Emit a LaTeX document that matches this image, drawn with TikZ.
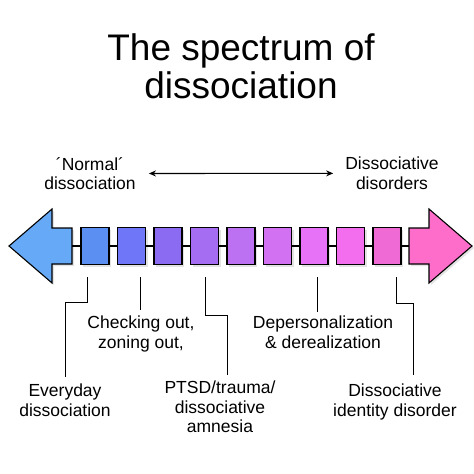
\documentclass[tikz,border=0pt]{standalone}
\usepackage{fontspec}
\setmainfont{Liberation Sans}
\usetikzlibrary{shadows,arrows.meta,positioning}

\definecolor{arrowblue}{HTML}{65A9F7}
\definecolor{arrowpink}{HTML}{FD6DC9}
\definecolor{boxa}{HTML}{5C8FF2}
\definecolor{boxb}{HTML}{7076F8}
\definecolor{boxc}{HTML}{8A6BF2}
\definecolor{boxd}{HTML}{A56EF2}
\definecolor{boxe}{HTML}{BC70F2}
\definecolor{boxf}{HTML}{D271F2}
\definecolor{boxg}{HTML}{E872F7}
\definecolor{boxh}{HTML}{F26EEE}
\definecolor{boxi}{HTML}{F06AD6}

\tikzset{
    softshadow/.style={drop shadow={opacity=.22, shadow xshift=2pt, shadow yshift=-2pt}},
    stepbox/.style={draw=black, line width=1.1pt, minimum width=28pt, minimum height=37pt, inner sep=0pt, softshadow},
    stepline/.style={draw=black, line width=1.1pt},
    notetext/.style={font=\fontsize{17.5}{19.5}\selectfont, align=center, inner sep=0pt},
    leader/.style={line width=1pt},
}

\begin{document}
\begin{tikzpicture}[x=1pt,y=-1pt]
    \useasboundingbox (0,0) rectangle (474,474);

    % Title
    \node[font=\fontsize{37}{38}\selectfont, anchor=base, inner sep=0pt] (title1) at (241,60) {The spectrum of};
    \node[font=\fontsize{37}{38}\selectfont, anchor=base, inner sep=0pt] (title2) at (241,98) {dissociation};

    % Ends of the spectrum
    \node[notetext, anchor=north] (normal) at (90,157) {´Normal´\\dissociation};
    \node[notetext, anchor=north] (disorders) at (392,157) {Dissociative\\disorders};
    \draw[line width=1.1pt, {Stealth[length=7pt,width=6pt]}-{Stealth[length=7pt,width=6pt]}]
        ([xshift=13pt]normal.east) -- ([xshift=-12pt]disorders.west);

    % Arrow heads
    \draw[stepline, fill=arrowblue, softshadow] (72,228) -- (52,228) -- (52,209) -- (9,246)
        -- (52,283) -- (52,264) -- (72,264) -- cycle;
    \draw[stepline, fill=arrowpink, softshadow] (409,228) -- (429,228) -- (429,209) -- (472,246)
        -- (429,283) -- (429,264) -- (409,264) -- cycle;
    \coordinate (lefttail) at (72,246);
    \coordinate (righttail) at (409,246);

    % Boxes
    \foreach \i/\c in {1/boxa,2/boxb,3/boxc,4/boxd,5/boxe,6/boxf,7/boxg,8/boxh,9/boxi}
        \node[stepbox, fill=\c] (b\i) at ({95+36.5*(\i-1)},246) {};
    \draw[stepline] (lefttail) -- (b1.west);
    \foreach \i [count=\j from 2] in {1,...,8}
        \draw[stepline] (b\i.east) -- (b\j.west);
    \draw[stepline] (b9.east) -- (righttail);

    % Labels
    \node[notetext, anchor=north] (everyday) at (65,384) {Everyday\\dissociation};
    \node[notetext, anchor=north] (checking) at (141,316) {Checking out,\\zoning out,};
    \node[notetext, anchor=north] (ptsd) at (220,381) {PTSD/trauma/\\dissociative\\amnesia};
    \node[notetext, anchor=north] (deperson) at (323,316) {Depersonalization\\\& derealization};
    \node[notetext, anchor=north] (did) at (395,384) {Dissociative\\identity disorder};

    % Leaders
    \coordinate (t1) at (87,277);
    \coordinate (t2) at (140,277);
    \coordinate (t3) at (205,277);
    \coordinate (t4) at (317,277);
    \coordinate (t5) at (396,277);
    \draw[leader] (t1) -- ++(0,25) -| ([yshift=7pt]everyday.north);
    \draw[leader] (t2) -- ([xshift=-1pt,yshift=6pt]checking.north);
    \draw[leader] (t3) -- ++(0,38) -| ([xshift=7pt,yshift=6pt]ptsd.north);
    \draw[leader] (t4) -- ([xshift=-6pt,yshift=4pt]deperson.north);
    \draw[leader] (t5) -- ++(0,26) -| ([xshift=18pt,yshift=9pt]did.north);
\end{tikzpicture}
\end{document}
